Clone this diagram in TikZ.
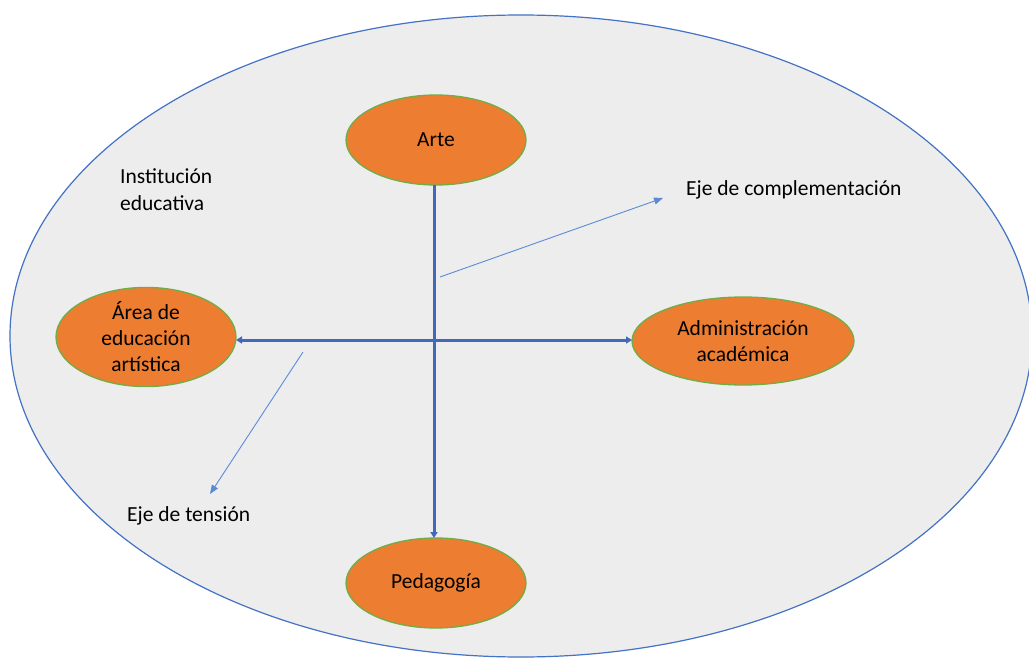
\documentclass[tikz,border=0pt]{standalone}
\usepackage{fontspec}
\setmainfont{Carlito}
\usetikzlibrary{shapes.geometric,arrows.meta}
\definecolor{orangefill}{HTML}{ED7D31}
\definecolor{greenedge}{HTML}{70AD47}
\definecolor{axisblue}{HTML}{4468B8}
\definecolor{ringblue}{HTML}{4472C4}
\definecolor{thinblue}{HTML}{5B8BD8}
\definecolor{bgrey}{HTML}{EDEDED}
\tikzset{
  topic/.style={ellipse, draw=greenedge, line width=1.3pt, fill=orangefill,
    inner sep=0pt, align=center, font=\fontsize{21.5}{26}\selectfont},
  label/.style={inner sep=0pt, align=left, font=\fontsize{21.5}{27}\selectfont, anchor=west},
  axis/.style={draw=axisblue, line width=3pt},
  pointer/.style={draw=thinblue, line width=0.9pt, -{Triangle[length=9pt,width=7pt]}}
}
\begin{document}
\begin{tikzpicture}[x=1pt,y=-1pt]
\useasboundingbox (0,0) rectangle (1029,661);
\fill[white] (0,0) rectangle (1029,661);
% institution
\draw[draw=ringblue, line width=1.2pt, fill=bgrey] (521,336) ellipse [x radius=511, y radius=321];
\node[label] (inst) at (120,190) {Institución\\educativa};
% topics
\node[topic, minimum width=180pt, minimum height=90pt] (arte) at (436,140) {Arte};
\node[topic, minimum width=180pt, minimum height=86pt] (area) at (146,337) {Área de\\educación\\artística};
\node[topic, minimum width=222pt, minimum height=88pt] (admin) at (743,341) {Administración\\académica};
\node[topic, minimum width=180pt, minimum height=90pt] (ped) at (436,583) {Pedagogía};
% axes
\coordinate (vtop) at (434,185);
\coordinate (vbot) at (434,538);
\coordinate (hl) at (236,340);
\coordinate (hr) at (632,340);
\draw[axis, -{Triangle[length=6pt,width=7pt]}] (vtop) -- (vbot);
\draw[axis, {Triangle[length=6pt,width=7pt]}-{Triangle[length=6pt,width=7pt]}] (hl) -- (hr);
% axis labels
\node[label] (comp) at (686,190) {Eje de complementación};
\node[label] (tens) at (127,516) {Eje de tensión};
\coordinate (cstart) at (440,277);
\coordinate (cend) at (663,198);
\coordinate (tstart) at (303,352);
\coordinate (tend) at (210,494);
\draw[pointer] (cstart) -- (cend);
\draw[pointer] (tstart) -- (tend);
\end{tikzpicture}
\end{document}
